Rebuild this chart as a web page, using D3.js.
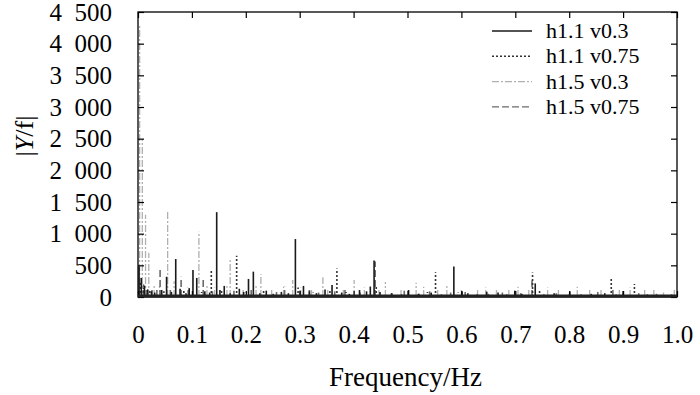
<!DOCTYPE html>
<html>
<head>
<meta charset="utf-8">
<script src="https://cdn.jsdelivr.net/npm/d3@7"></script>
<style>
  body { margin: 0; background: #fff; }
  svg { display: block; font-family: "Liberation Serif", "Times New Roman", serif; }
</style>
</head>
<body>
<svg></svg>
<script>
const width = 700;
const height = 395;
const plotLeft = 138, plotRight = 677, plotTop = 12, plotBottom = 297;

// tick values
const xTicks = [0, 0.1, 0.2, 0.3, 0.4, 0.5, 0.6, 0.7, 0.8, 0.9, 1.0];
const yTicks = [0, 500, 1000, 1500, 2000, 2500, 3000, 3500, 4000, 4500];

const seriesNames = ['h1.1 v0.3', 'h1.1 v0.75', 'h1.5 v0.3', 'h1.5 v0.75'];

// h1.1 v0.3 (solid)
const freqA = [0.002, 0.006, 0.012, 0.018, 0.025, 0.031, 0.044, 0.053, 0.062, 0.070, 0.078, 0.089, 0.095, 0.102, 0.109,
  0.124, 0.133, 0.146, 0.152, 0.160, 0.171, 0.188, 0.196, 0.205, 0.214, 0.226, 0.238, 0.251, 0.266, 0.279, 0.292,
  0.307, 0.318, 0.331, 0.347, 0.360, 0.378, 0.392, 0.411, 0.424, 0.431, 0.438, 0.449, 0.471, 0.489, 0.502, 0.521,
  0.544, 0.563, 0.586, 0.601, 0.612, 0.629, 0.647, 0.668, 0.684, 0.699, 0.712, 0.737, 0.753, 0.772, 0.788, 0.801,
  0.822, 0.841, 0.866, 0.887, 0.900, 0.918, 0.945, 0.968, 0.990];
const ampA = [480, 300, 180, 120, 90, 70, 110, 320, 80, 600, 130, 60, 140, 425, 300,
  90, 70, 1340, 110, 175, 60, 130, 80, 285, 400, 60, 100, 50, 80, 60, 915,
  175, 90, 60, 120, 190, 70, 50, 110, 90, 165, 575, 80, 60, 40, 110, 50,
  70, 40, 480, 85, 60, 40, 85, 70, 40, 100, 50, 215, 40, 60, 30, 85,
  40, 50, 60, 40, 95, 30, 40, 30, 40];

// h1.1 v0.75 (dotted)
const freqB = [0.004, 0.010, 0.022, 0.048, 0.085, 0.118, 0.136, 0.155, 0.183, 0.201, 0.233, 0.262, 0.297, 0.325,
  0.356, 0.369, 0.386, 0.418, 0.442, 0.478, 0.509, 0.537, 0.552, 0.569, 0.594, 0.622, 0.656, 0.691, 0.718, 0.732,
  0.745, 0.762, 0.795, 0.833, 0.858, 0.878, 0.909, 0.921, 0.936, 0.958, 0.982];
const ampB = [220, 150, 100, 90, 110, 80, 440, 100, 650, 70, 120, 60, 150, 70,
  100, 450, 80, 60, 180, 50, 60, 80, 390, 50, 70, 40, 50, 60, 50, 385,
  110, 40, 50, 40, 60, 305, 50, 205, 40, 30, 40];

// h1.5 v0.3 (dash-dot)
const freqC = [0.003, 0.008, 0.014, 0.020, 0.030, 0.040, 0.055, 0.067, 0.092, 0.113, 0.128, 0.142, 0.165, 0.171,
  0.195, 0.219, 0.228, 0.248, 0.270, 0.287, 0.302, 0.322, 0.343, 0.352, 0.381, 0.401, 0.420, 0.447, 0.459, 0.488,
  0.516, 0.530, 0.556, 0.573, 0.600, 0.630, 0.645, 0.665, 0.688, 0.705, 0.725, 0.760, 0.780, 0.815, 0.838, 0.859,
  0.893, 0.913, 0.940, 0.957, 0.975, 0.995];
const ampC = [4300, 2500, 1300, 700, 200, 180, 1350, 250, 150, 1030, 200, 150, 180, 615,
  140, 180, 360, 130, 160, 270, 150, 120, 310, 140, 120, 270, 150, 130, 235, 140,
  225, 160, 120, 175, 140, 110, 150, 130, 110, 160, 140, 150, 130, 160, 140, 120,
  130, 150, 140, 130, 70, 120];

// h1.5 v0.75 (dashed)
const freqD = [0.010, 0.016, 0.026, 0.035, 0.041, 0.060, 0.080, 0.094, 0.121, 0.138, 0.178, 0.210, 0.257, 0.272,
  0.300, 0.318, 0.335, 0.365, 0.384, 0.412, 0.440, 0.470, 0.494, 0.520, 0.541, 0.580, 0.607, 0.650, 0.676, 0.710,
  0.731, 0.776, 0.800, 0.853, 0.881, 0.900, 0.929, 0.962];
const ampD = [200, 150, 120, 140, 465, 150, 320, 110, 315, 90, 100, 120, 80, 160,
  100, 140, 70, 90, 120, 70, 560, 60, 100, 50, 90, 70, 80, 50, 70, 60,
  260, 60, 40, 80, 150, 50, 60, 50];

const styles = [
  { color: '#1a1a1a', dash: null, w: 1.6 },
  { color: '#333', dash: '2,2', w: 1.6 },
  { color: '#b0b0b0', dash: '7,2,2,2', w: 1.3 },
  { color: '#6a6a6a', dash: '7,3', w: 1.6 }
];

let svg = d3.select('svg').attr('width', width).attr('height', height);

let xScale = d3.scaleLinear().domain([0, 1]).range([plotLeft, plotRight]);
let yScale = d3.scaleLinear().domain([0, 4500]).range([plotBottom, plotTop]);

const fmtY = d => d3.format(',')(d).replace(',', '\u2007');
const fmtX = d => d === 1 ? '1.0' : String(d);

function drawSeries(freqs, amps, st) {
    svg.append('g')
        .selectAll('line')
        .data(freqs)
        .enter()
        .append('line')
        .attr('x1', d => xScale(d))
        .attr('x2', d => xScale(d))
        .attr('y1', yScale(0))
        .attr('y2', (d, i) => yScale(amps[i]))
        .attr('stroke', st.color)
        .attr('stroke-width', st.w)
        .attr('stroke-dasharray', st.dash);
}

drawSeries(freqC, ampC, styles[2]);
drawSeries(freqD, ampD, styles[3]);
drawSeries(freqB, ampB, styles[1]);
drawSeries(freqA, ampA, styles[0]);

// axes with inward ticks
svg.append('g')
    .attr('transform', 'translate(0,' + plotBottom + ')')
    .call(d3.axisBottom(xScale).tickValues(xTicks).tickFormat(fmtX).tickSizeInner(-6).tickSizeOuter(0).tickPadding(28));
svg.append('g')
    .attr('transform', 'translate(' + plotLeft + ',0)')
    .call(d3.axisLeft(yScale).tickValues(yTicks).tickFormat(fmtY).tickSizeInner(-6).tickSizeOuter(0).tickPadding(26));
svg.append('g')
    .attr('transform', 'translate(0,' + plotTop + ')')
    .call(d3.axisTop(xScale).tickValues(xTicks).tickFormat('').tickSizeInner(-6).tickSizeOuter(0));
svg.append('g')
    .attr('transform', 'translate(' + plotRight + ',0)')
    .call(d3.axisRight(yScale).tickValues(yTicks).tickFormat('').tickSizeInner(-6).tickSizeOuter(0));

svg.selectAll('.domain').remove();
svg.selectAll('.tick line').attr('stroke', '#000').attr('stroke-width', 1.2);
svg.selectAll('.tick text').attr('fill', '#000').style('font-size', '25px').style('font-family', '"Liberation Serif", serif');

svg.append('rect')
    .attr('x', plotLeft).attr('y', plotTop)
    .attr('width', plotRight - plotLeft).attr('height', plotBottom - plotTop)
    .attr('fill', 'none').attr('stroke', '#000').attr('stroke-width', 1.3);
svg.append('line')
    .attr('x1', plotLeft).attr('x2', plotRight).attr('y1', plotBottom - 1).attr('y2', plotBottom - 1)
    .attr('stroke', '#222').attr('stroke-width', 3);

// titles
svg.append('text')
    .attr('x', (plotLeft + plotRight) / 2 - 2).attr('y', 386)
    .attr('text-anchor', 'middle')
    .style('font-size', '27px')
    .text('Frequency/Hz');

let yl = svg.append('text')
    .attr('transform', 'translate(33,136) rotate(-90)')
    .attr('text-anchor', 'middle')
    .style('font-size', '26px');
yl.append('tspan').text('|');
yl.append('tspan').style('font-style', 'italic').text('Y');
yl.append('tspan').text('/f|');

// legend
let legend = svg.append('g');
seriesNames.forEach((name, i) => {
    let y = 31 + i * 25.3;
    legend.append('line')
        .attr('x1', 492).attr('x2', 532).attr('y1', y).attr('y2', y)
        .attr('stroke', styles[i].color)
        .attr('stroke-width', 1.4)
        .attr('stroke-dasharray', styles[i].dash);
    legend.append('text')
        .attr('x', 546).attr('y', y + 7)
        .style('font-size', '22px')
        .text(name);
});
</script>
</body>
</html>
